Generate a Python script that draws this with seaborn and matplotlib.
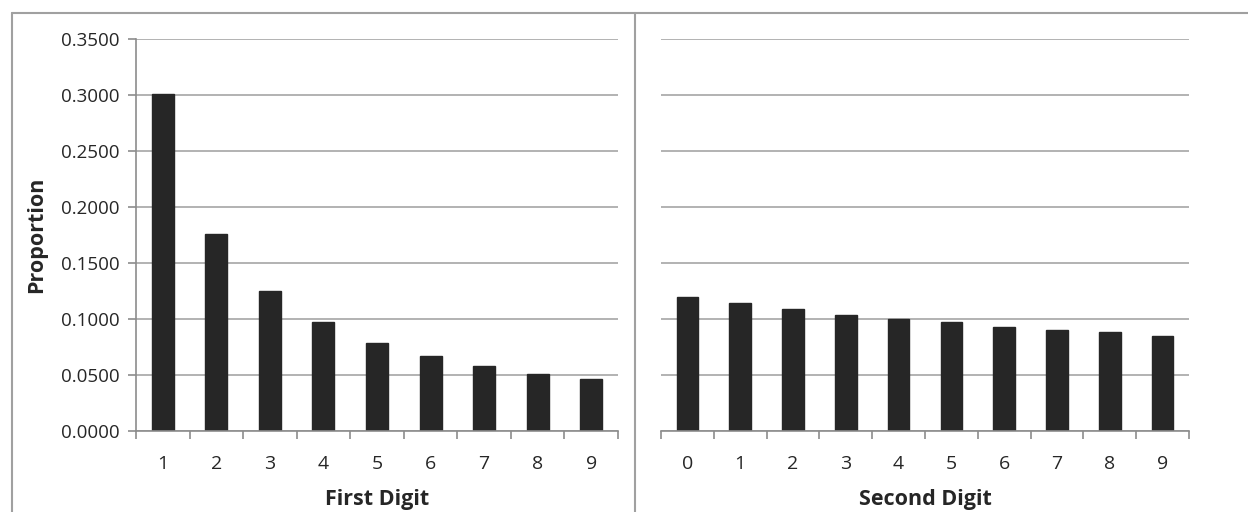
import matplotlib
matplotlib.use("Agg")
import matplotlib.pyplot as plt
import seaborn as sns
import pandas as pd
from matplotlib.lines import Line2D

first_digits = ["1", "2", "3", "4", "5", "6", "7", "8", "9"]
first_props = [0.301, 0.176, 0.125, 0.097, 0.079, 0.067, 0.058, 0.051, 0.046]
second_digits = ["0", "1", "2", "3", "4", "5", "6", "7", "8", "9"]
second_props = [0.120, 0.114, 0.109, 0.104, 0.100, 0.097, 0.093, 0.090, 0.088, 0.085]
y_ticks = [0.0, 0.05, 0.10, 0.15, 0.20, 0.25, 0.30, 0.35]

sns.set_style("white")
plt.rcParams['font.family'] = ['Open Sans', 'DejaVu Sans']

W, H = 1248, 512
fig = plt.figure(figsize=(W / 100, H / 100), dpi=100)

def fx(px):
    return px / W

def fy(py):
    return 1 - py / H

top, bottom = 39, 431
ax1 = fig.add_axes([fx(136), fy(bottom), fx(618 - 136), (bottom - top) / H])
ax2 = fig.add_axes([fx(661), fy(bottom), fx(1189 - 661), (bottom - top) / H])

bar_color = "#262626"
grid_color = "#a6a6a6"
axis_color = "#8c8c8c"

df1 = pd.DataFrame({"digit": first_digits, "prop": first_props})
df2 = pd.DataFrame({"digit": second_digits, "prop": second_props})

for ax, df, xlabel in [(ax1, df1, "First Digit"), (ax2, df2, "Second Digit")]:
    sns.barplot(data=df, x="digit", y="prop", ax=ax, color=bar_color,
                width=0.41, saturation=1, edgecolor=bar_color, zorder=3)
    n = len(df)
    ax.set_xlim(-0.5, n - 0.5)
    ax.set_ylim(0, 0.35)
    ax.set_yticks(y_ticks)
    ax.yaxis.grid(True, color=grid_color, linewidth=1.2, zorder=0)
    ax.set_axisbelow(True)
    for s in ["top", "right"]:
        ax.spines[s].set_visible(False)
    ax.spines["bottom"].set_color(axis_color)
    ax.spines["bottom"].set_linewidth(1.2)
    ax.spines["bottom"].set_zorder(4)
    ax.set_xlabel(xlabel, fontsize=15.5, fontweight="bold", labelpad=12)
    # tick marks at category boundaries
    ax.set_xticks([i - 0.5 for i in range(n + 1)], minor=True)
    ax.tick_params(axis="x", which="major", length=0, labelsize=14, pad=17)
    ax.tick_params(axis="x", which="minor", length=6, width=1.2, color=axis_color, direction="out", bottom=True)

ax1.spines["left"].set_color(axis_color)
ax1.spines["left"].set_linewidth(1.2)
ax1.yaxis.set_major_formatter(matplotlib.ticker.FormatStrFormatter("%.4f"))
ax1.tick_params(axis="y", length=6, width=1.2, color=axis_color, direction="out", left=True,
                labelsize=13.5, pad=6)
ax1.set_ylabel("Proportion", fontsize=15.5, fontweight="bold", labelpad=10)

ax2.spines["left"].set_visible(False)
ax2.tick_params(axis="y", length=0, labelleft=False)
ax2.set_ylabel("")

# panel borders
border = "#a0a0a0"
fig.add_artist(Line2D([fx(12), fx(12)], [fy(13), 0], color=border, lw=1.5))
fig.add_artist(Line2D([fx(12), 1], [fy(13), fy(13)], color=border, lw=1.5))
fig.add_artist(Line2D([fx(635), fx(635)], [fy(13), 0], color=border, lw=1.5))

fig.savefig("out.png", dpi=100)
